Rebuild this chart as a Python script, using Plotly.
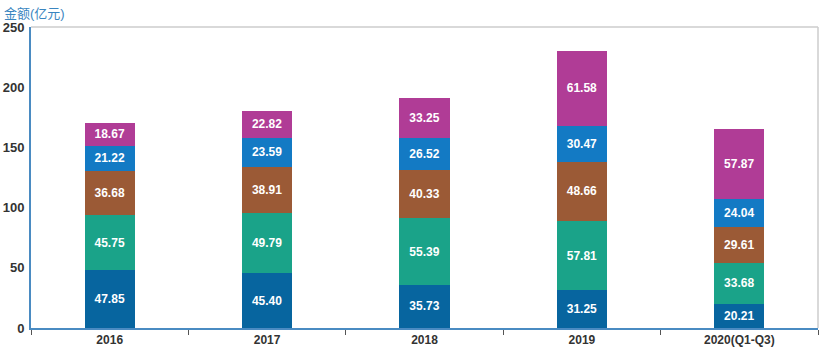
import plotly.graph_objects as go

categories = ["2016", "2017", "2018", "2019", "2020(Q1-Q3)"]
s1 = [47.85, 45.40, 35.73, 31.25, 20.21]
s2 = [45.75, 49.79, 55.39, 57.81, 33.68]
s3 = [36.68, 38.91, 40.33, 48.66, 29.61]
s4 = [21.22, 23.59, 26.52, 30.47, 24.04]
s5 = [18.67, 22.82, 33.25, 61.58, 57.87]
y_ticks = [0, 50, 100, 150, 200, 250]

series = [s1, s2, s3, s4, s5]
colors = ["#07659f", "#1aa389", "#9b5a36", "#137ac4", "#b03c96"]

FONT = "Liberation Sans, Arial, Noto Sans CJK SC, sans-serif"

fig = go.Figure()
for vals, c in zip(series, colors):
    fig.add_trace(go.Bar(
        x=categories, y=vals,
        marker=dict(color=c, line=dict(width=0)),
        text=[f"<b>{v:.2f}</b>" for v in vals],
        textposition="inside", insidetextanchor="middle", textangle=0,
        textfont=dict(color="white", size=12, family=FONT),
        constraintext="none",
        hoverinfo="skip",
    ))

fig.update_layout(
    barmode="stack",
    bargap=0.68,
    width=831, height=349,
    margin=dict(l=31, r=13, t=27, b=21, autoexpand=False),
    paper_bgcolor="white", plot_bgcolor="white",
    showlegend=False,
    font=dict(family=FONT, color="#333333"),
    xaxis=dict(
        type="category",
        automargin=False,
        showgrid=False,
        showline=True, linecolor="#4a8bc2", linewidth=2,
        ticks="outside", tickson="boundaries", ticklen=5, tickcolor="#555555", tickwidth=1,
        tickfont=dict(size=12, family=FONT, color="#333333"),
        tickprefix="<b>", ticksuffix="</b>",
        zeroline=False,
    ),
    yaxis=dict(
        range=[0, 250],
        automargin=False,
        tickvals=y_ticks,
        ticktext=[f"<b>{t}</b>" for t in y_ticks],
        showgrid=False,
        showline=True, linecolor="#4a8bc2", linewidth=2,
        ticks="", ticklabelstandoff=2,
        tickfont=dict(size=13, family=FONT, color="#333333"),
        zeroline=False,
    ),
    shapes=[
        dict(type="line", xref="paper", yref="paper", x0=0, x1=1, y0=1, y1=1,
             line=dict(color="#cccccc", width=1.5)),
        dict(type="line", xref="paper", yref="paper", x0=1, x1=1, y0=0, y1=1,
             line=dict(color="#cccccc", width=1.5)),
    ],
    annotations=[
        dict(text="金额(亿元)", xref="paper", yref="paper",
             x=-0.037, y=1.0, xanchor="left", yanchor="bottom", yshift=4,
             showarrow=False, font=dict(size=13, color="#3a85c0", family=FONT)),
    ],
)

fig.write_html("out.html")
